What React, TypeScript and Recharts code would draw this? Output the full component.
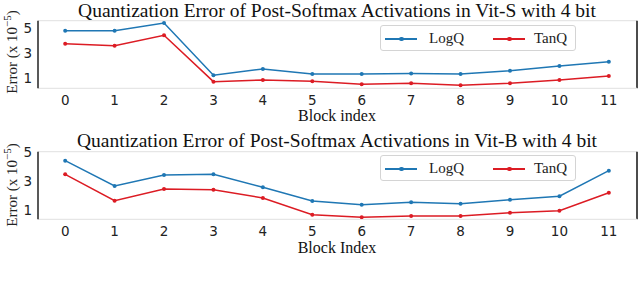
import React from 'react';
import { LineChart, Line, XAxis, YAxis, ReferenceLine } from 'recharts';

const blocks = [0, 1, 2, 3, 4, 5, 6, 7, 8, 9, 10, 11];
const yTicks = [1, 3, 5];

const vitSLogQ = [4.79, 4.79, 5.4, 1.24, 1.74, 1.34, 1.34, 1.37, 1.34, 1.6, 1.98, 2.32];
const vitSTanQ = [3.75, 3.59, 4.42, 0.73, 0.86, 0.76, 0.52, 0.6, 0.44, 0.6, 0.86, 1.18];

const vitBLogQ = [4.42, 2.68, 3.43, 3.48, 2.59, 1.64, 1.39, 1.55, 1.46, 1.73, 1.97, 3.73];
const vitBTanQ = [3.48, 1.66, 2.47, 2.42, 1.85, 0.7, 0.52, 0.61, 0.61, 0.84, 0.97, 2.21];

const titles = [
  'Quantization Error of Post-Softmax Activations in Vit-S with 4 bit',
  'Quantization Error of Post-Softmax Activations in Vit-B with 4 bit',
];
const xLabels = ['Block index', 'Block Index'];
const seriesNames = ['LogQ', 'TanQ'];

const BLUE = '#1f77b4';
const RED = '#dc1c24';
const X_DOMAIN: [number, number] = [-0.55, 11.57];

const rowsS = blocks.map((b, i) => ({ block: b, logq: vitSLogQ[i], tanq: vitSTanQ[i] }));
const rowsB = blocks.map((b, i) => ({ block: b, logq: vitBLogQ[i], tanq: vitBTanQ[i] }));

type PanelProps = {
  rows: { block: number; logq: number; tanq: number }[];
  yDomain: [number, number];
  marginTop: number;
  marginBottom: number;
};

function Panel({ rows, yDomain, marginTop, marginBottom }: PanelProps) {
  return (
    <LineChart
      width={640}
      height={130}
      data={rows}
      margin={{ top: marginTop, right: 3, bottom: marginBottom, left: 0 }}
    >
      <XAxis
        dataKey="block"
        type="number"
        domain={X_DOMAIN}
        ticks={blocks}
        interval={0}
        allowDataOverflow
        tickLine={false}
        tickSize={0}
        tickMargin={7}
        height={30}
        axisLine={{ stroke: '#e6e6e6', strokeWidth: 1.2 }}
        tick={{ fontSize: 13.5, fill: '#222', fontFamily: 'DejaVu Sans' }}
      />
      <YAxis
        type="number"
        domain={yDomain}
        ticks={yTicks}
        allowDataOverflow
        width={38}
        tickLine={false}
        tickSize={0}
        tickMargin={6}
        axisLine={{ stroke: '#222', strokeWidth: 1.5 }}
        tick={{ fontSize: 13.5, fill: '#222', fontFamily: 'DejaVu Sans' }}
      />
      <ReferenceLine y={yDomain[1]} stroke="#e6e6e6" strokeWidth={1.2} />
      <ReferenceLine x={X_DOMAIN[1]} stroke="#111" strokeWidth={1.5} />
      <Line
        dataKey="logq"
        stroke={BLUE}
        strokeWidth={1.5}
        dot={{ r: 2, fill: BLUE, stroke: BLUE, strokeWidth: 0 }}
        activeDot={false}
        isAnimationActive={false}
      />
      <Line
        dataKey="tanq"
        stroke={RED}
        strokeWidth={1.5}
        dot={{ r: 2, fill: RED, stroke: RED, strokeWidth: 0 }}
        activeDot={false}
        isAnimationActive={false}
      />
    </LineChart>
  );
}

function LegendBox({ top }: { top: number }) {
  const item = (color: string, label: string, x: number, textX: number) => (
    <>
      <div style={{ position: 'absolute', left: x, top: 12, width: 32, height: 1.5, background: color }} />
      <div style={{ position: 'absolute', left: x + 14, top: 10.5, width: 4.5, height: 4.5, borderRadius: '50%', background: color }} />
      <div style={{ position: 'absolute', left: textX, top: 2, fontSize: 15, lineHeight: '20px', color: '#222' }}>{label}</div>
    </>
  );
  return (
    <div
      style={{
        position: 'absolute',
        left: 380,
        top,
        width: 194,
        height: 24,
        border: '1px solid #d4d4d4',
        borderRadius: 3,
        background: '#fff',
      }}
    >
      {item(BLUE, seriesNames[0], 4, 48)}
      {item(RED, seriesNames[1], 112, 153)}
    </div>
  );
}

function YLabel({ cy }: { cy: number }) {
  return (
    <div
      style={{
        position: 'absolute',
        left: 12,
        top: cy,
        transform: 'translate(-50%, -50%) rotate(-90deg)',
        whiteSpace: 'nowrap',
        fontSize: 15,
        lineHeight: '16px',
        color: '#222',
      }}
    >
      Error (x 10<sup style={{ fontSize: 11, verticalAlign: 'super', lineHeight: 0 }}>−5</sup>)
    </div>
  );
}

function CenterText({ text, cy, size }: { text: string; cy: number; size: number }) {
  return (
    <div
      style={{
        position: 'absolute',
        left: 337,
        top: cy,
        transform: 'translate(-50%, -50%)',
        whiteSpace: 'pre',
        fontSize: size,
        lineHeight: `${size}px`,
        color: '#111',
      }}
    >
      {text}
    </div>
  );
}

export default function App() {
  return (
    <div
      style={{
        position: 'absolute',
        left: 0,
        top: 0,
        width: 640,
        height: 284,
        background: '#fff',
        overflow: 'hidden',
        fontFamily: '"Liberation Serif", serif',
      }}
    >
      <div style={{ position: 'absolute', left: 0, top: 0 }}>
        <Panel rows={rowsS} yDomain={[0.2, 5.58]} marginTop={20.7} marginBottom={11.7} />
      </div>
      <div style={{ position: 'absolute', left: 0, top: 130 }}>
        <Panel rows={rowsB} yDomain={[0.38, 5.04]} marginTop={21.7} marginBottom={10.7} />
      </div>
      <CenterText text={titles[0]} cy={11} size={19.5} />
      <CenterText text={titles[1]} cy={141} size={19.5} />
      <CenterText text={xLabels[0]} cy={116} size={16} />
      <CenterText text={xLabels[1]} cy={248} size={16} />
      <YLabel cy={52} />
      <YLabel cy={185} />
      <LegendBox top={25} />
      <LegendBox top={155} />
    </div>
  );
}
